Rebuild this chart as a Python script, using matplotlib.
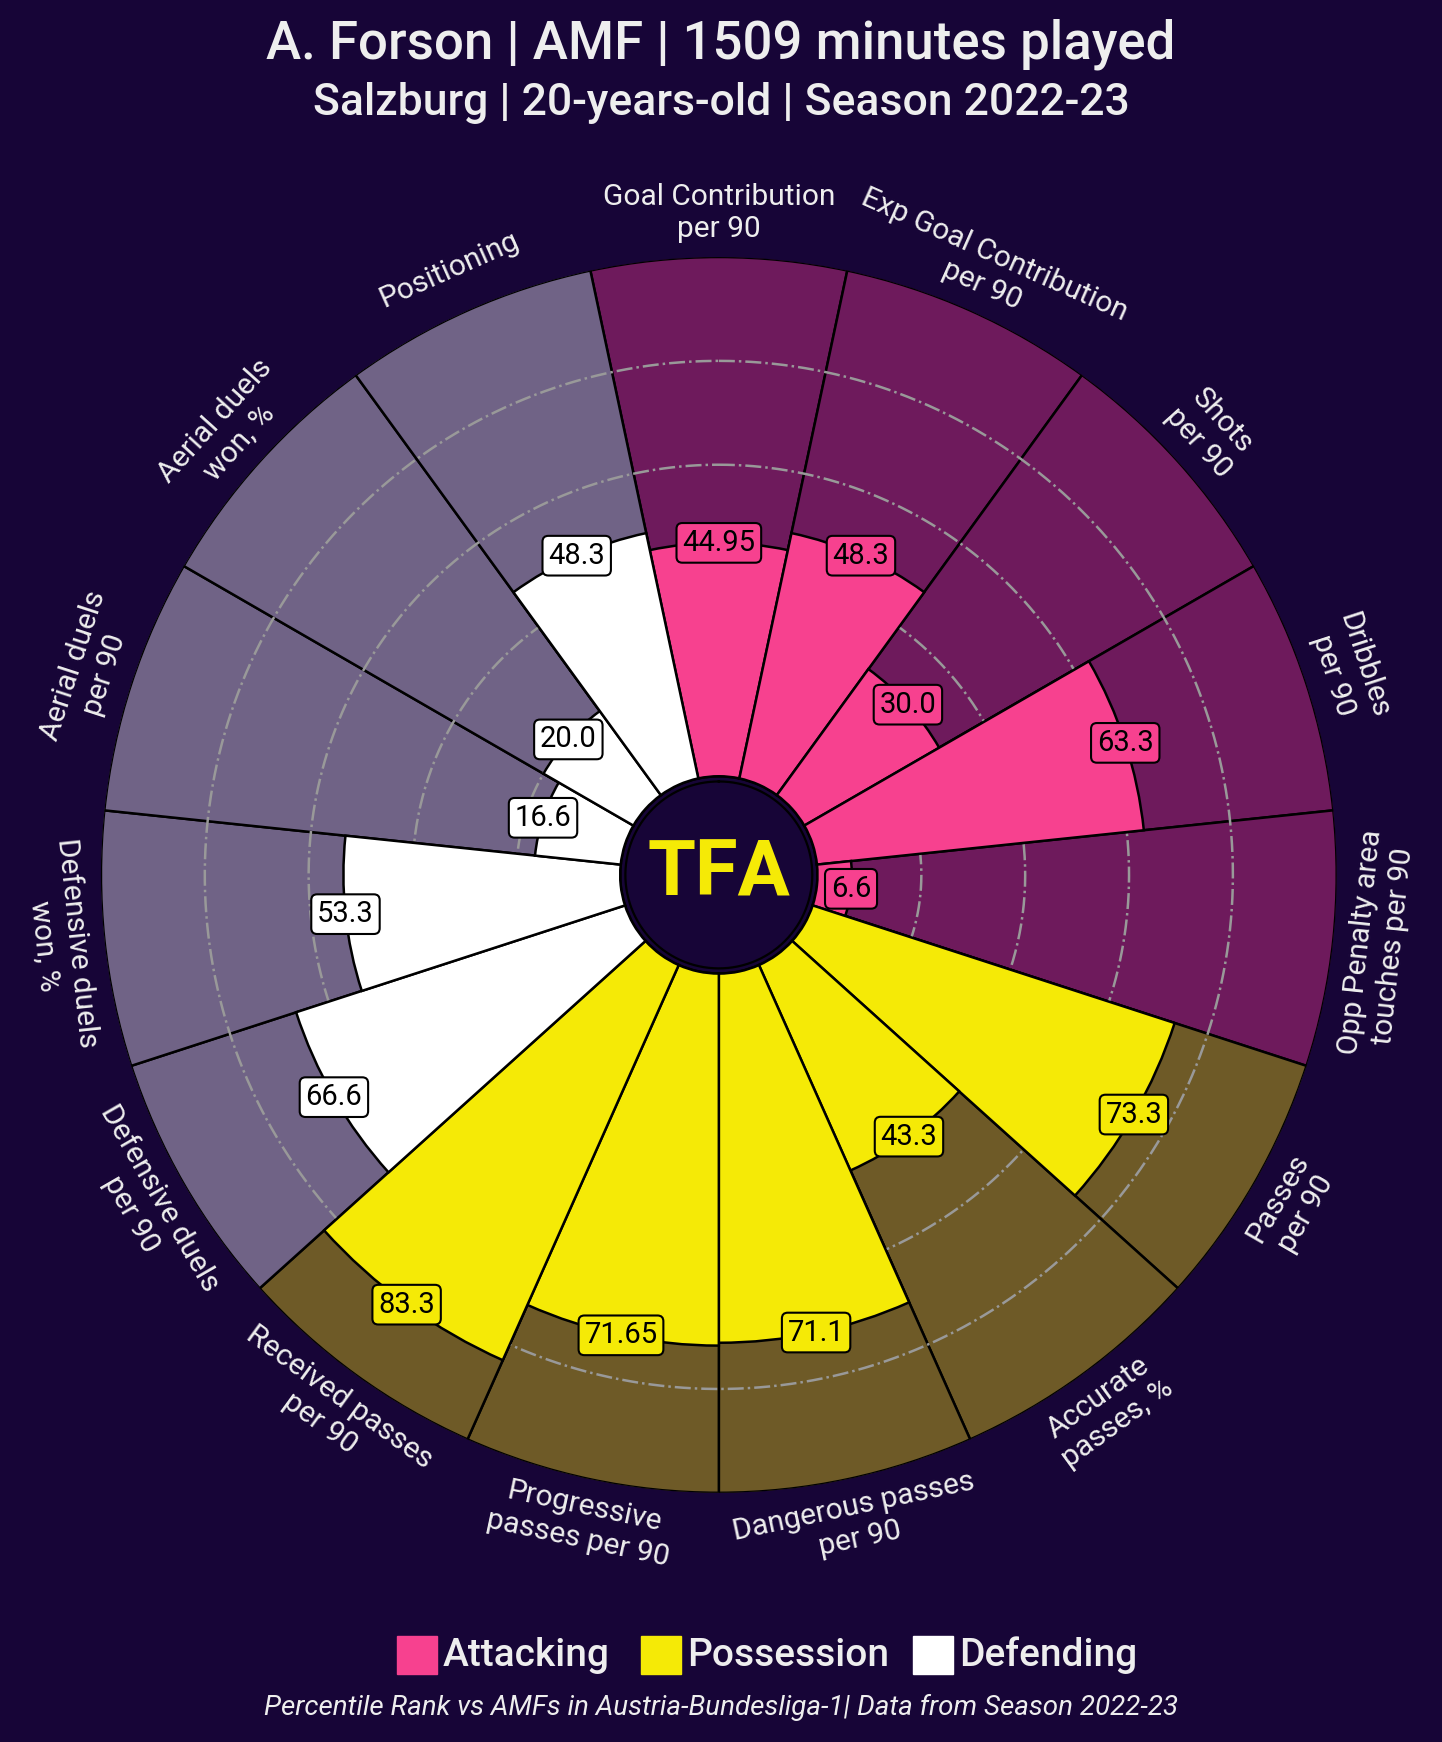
import numpy as np
import matplotlib.pyplot as plt
from matplotlib.patches import Rectangle

plt.rcParams['font.family'] = ['Roboto', 'DejaVu Sans']

params = ["Goal Contribution\nper 90", "Exp Goal Contribution\nper 90", "Shots\nper 90",
          "Dribbles\nper 90", "Opp Penalty area\ntouches per 90", "Passes\nper 90",
          "Accurate\npasses, %", "Dangerous passes\nper 90", "Progressive\npasses per 90",
          "Received passes\nper 90", "Defensive duels\nper 90", "Defensive duels\nwon, %",
          "Aerial duels\nper 90", "Aerial duels\nwon, %", "Positioning"]
values = [44.95, 48.3, 30.0, 63.3, 6.6, 73.3, 43.3, 71.1, 71.65, 83.3, 66.6, 53.3, 16.6, 20.0, 48.3]
groups = ["Attacking"] * 5 + ["Possession"] * 5 + ["Defending"] * 5
legend_names = ["Attacking", "Possession", "Defending"]

bg = "#170537"
bar_colors = {"Attacking": "#F7418F", "Possession": "#F5EA06", "Defending": "#FFFFFF"}
slice_colors = {"Attacking": "#6E1A5C", "Possession": "#6E5A27", "Defending": "#706386"}
text_col = "#EEEEEE"

inner = 19  # size of the hole in the middle, in percentile units

fig = plt.figure(figsize=(14.42, 17.42), dpi=100, facecolor=bg)
ax = fig.add_axes([0.070, 0.143, 0.857, 0.7095], projection='polar')
ax.set_facecolor(bg)
ax.set_theta_zero_location('N')
ax.set_theta_direction(-1)

n = len(params)
theta = np.arange(n) * 2 * np.pi / n
width = 2 * np.pi / n

# background slices
ax.bar(theta, 100, width=width, bottom=inner, color=[slice_colors[g] for g in groups],
       edgecolor='black', linewidth=1.8, zorder=1)

# dash-dot rings
t = np.linspace(0, 2 * np.pi, 600)
for g in [20, 40, 60, 80]:
    ax.plot(t, np.full_like(t, g + inner), color='#999999', ls='-.', lw=1.8, zorder=2)

# the actual values
ax.bar(theta, values, width=width, bottom=inner, color=[bar_colors[g] for g in groups],
       edgecolor='black', linewidth=1.8, zorder=3)

# center circle with logo
ax.fill(t, np.full_like(t, 18), color=bg, zorder=4)
ax.plot(t, np.full_like(t, 18), color='black', lw=1.6, zorder=5)
ax.text(0, 0, "TFA", ha='center', va='center', fontsize=56, fontweight='bold',
        color='#F5EA06', zorder=6)

# value boxes
for th, v, g in zip(theta, values, groups):
    ax.text(th, v + inner, str(v), ha='center', va='center', fontsize=21, color='black',
            zorder=7, bbox=dict(boxstyle='round,pad=0.2', fc=bar_colors[g], ec='black', lw=1.5))

# parameter labels, rotated along the circle
for th, p in zip(theta, params):
    ang = 90 - np.degrees(th)
    ang = (ang + 180) % 360 - 180
    rot = ang - 90 if ang >= 0 else ang + 90
    ax.text(th, 127.5, p, ha='center', va='center', fontsize=21.5, color=text_col,
            rotation=rot, rotation_mode='anchor', linespacing=1.2)

ax.set_ylim(0, 100 + inner)
ax.set_axis_off()

# titles
fig.text(0.5, 1 - 44 / 1742, "A. Forson | AMF | 1509 minutes played", ha='center', va='center',
         fontsize=38, fontweight='medium', color=text_col)
fig.text(0.5, 1 - 103 / 1742, "Salzburg | 20-years-old | Season 2022-23", ha='center', va='center',
         fontsize=32, fontweight='medium', color=text_col)

# legend
leg_x = [397, 641, 913]
for x, name in zip(leg_x, legend_names):
    fig.patches.append(Rectangle((x / 1442, 1 - 1674 / 1742), 40 / 1442, 38 / 1742,
                                 transform=fig.transFigure, color=bar_colors[name]))
    fig.text((x + 46) / 1442, 1 - 1655 / 1742, name, ha='left', va='center',
             fontsize=28, fontweight='medium', color=text_col)

fig.text(0.5, 1 - 1707 / 1742,
         "Percentile Rank vs AMFs in Austria-Bundesliga-1| Data from Season 2022-23",
         ha='center', va='center', fontsize=20, style='italic', color=text_col)

fig.savefig("out.png", dpi=100, facecolor=bg)
